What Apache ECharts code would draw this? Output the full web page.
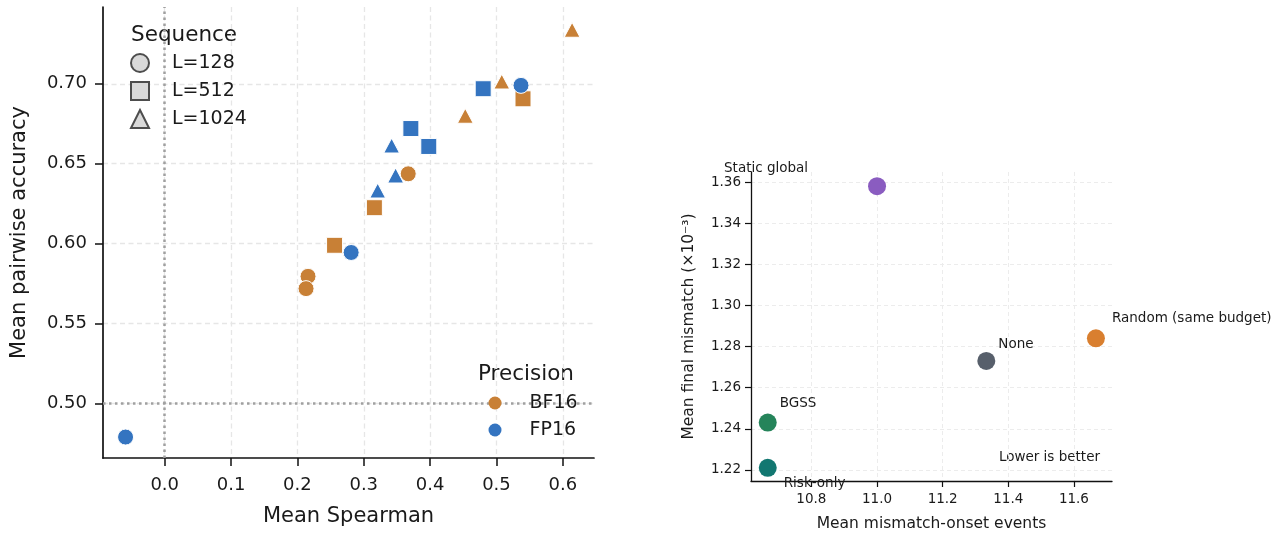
<!DOCTYPE html>
<html><head><meta charset="utf-8">
<script src="https://cdn.jsdelivr.net/npm/echarts@6/dist/echarts.min.js"></script>
<style>html,body{margin:0;padding:0;background:#fff}#c{width:1286px;height:533px}</style>
</head><body><div id="c"></div>
<script>
// ---------- Left panel data ----------
const precisions = ['BF16', 'FP16'];
const seqLevels = ['L=128', 'L=512', 'L=1024'];
const bf16Spearman = [0.216, 0.213, 0.367, 0.256, 0.316, 0.540, 0.453, 0.508, 0.614];
const bf16Accuracy = [0.5796, 0.5719, 0.6437, 0.599, 0.6225, 0.6906, 0.680, 0.7014, 0.7338];
const bf16Seq = ['L=128', 'L=128', 'L=128', 'L=512', 'L=512', 'L=512', 'L=1024', 'L=1024', 'L=1024'];
const fp16Spearman = [-0.059, 0.281, 0.537, 0.371, 0.398, 0.480, 0.321, 0.348, 0.342];
const fp16Accuracy = [0.4791, 0.5945, 0.699, 0.672, 0.6608, 0.6969, 0.6333, 0.6427, 0.6614];
const fp16Seq = ['L=128', 'L=128', 'L=128', 'L=512', 'L=512', 'L=512', 'L=1024', 'L=1024', 'L=1024'];
const leftXTicks = [0.0, 0.1, 0.2, 0.3, 0.4, 0.5, 0.6];
const leftYTicks = [0.50, 0.55, 0.60, 0.65, 0.70];
const refX = 0.0;
const refY = 0.5;

// ---------- Right panel data ----------
const methods = ['Static global', 'Random (same budget)', 'None', 'BGSS', 'Risk-only'];
const onsetEvents = [11.0, 11.667, 11.333, 10.667, 10.667];
const finalMismatch = [1.358, 1.284, 1.273, 1.243, 1.221];
const rightXTicks = [10.8, 11.0, 11.2, 11.4, 11.6];
const rightYTicks = [1.22, 1.24, 1.26, 1.28, 1.30, 1.32, 1.34, 1.36];

// ---------- Styles ----------
const FONT = 'DejaVu Sans';
const precColors = { BF16: '#c88036', FP16: '#3474c0' };
const seqSymbols = { 'L=128': 'circle', 'L=512': 'rect', 'L=1024': 'triangle' };
const seqSizes = { 'L=128': 16, 'L=512': 16, 'L=1024': [16, 15] };
const methodColors = ['#8a5cc0', '#d97f2f', '#575f6b', '#25845a', '#127771'];
const labelOffsets = [[-153, -18], [16, -20], [12, -16], [12, -19], [16, 16]];

const gridLine = { show: true, lineStyle: { color: '#e6e6e6', width: 1.3, type: [5, 3.5] } };

function mkPoints(xs, ys, seqs) {
  return xs.map((x, i) => ({
    value: [x, ys[i]],
    symbol: seqSymbols[seqs[i]],
    symbolSize: seqSizes[seqs[i]]
  }));
}

const chart = echarts.init(document.getElementById('c'), null, { renderer: 'canvas' });

const option = {
  animation: false,
  backgroundColor: '#fff',
  textStyle: { fontFamily: FONT },
  grid: [
    { left: 103, top: 7, width: 491, height: 451, containLabel: false, outerBoundsMode: 'none' },
    { left: 751, top: 172, width: 361, height: 309, containLabel: false, outerBoundsMode: 'none' }
  ],
  xAxis: [
    {
      gridIndex: 0, type: 'value', min: -0.093, max: 0.647,
      name: 'Mean Spearman', nameLocation: 'middle', nameGap: 48,
      nameTextStyle: { fontSize: 21, color: '#1a1a1a', fontFamily: FONT },
      axisLine: { show: true, onZero: false, lineStyle: { color: '#111', width: 1.7 } },
      axisTick: { show: true, length: 8, lineStyle: { width: 1.5, color: '#111' }, customValues: leftXTicks },
      axisLabel: { fontSize: 18, color: '#1a1a1a', margin: 18, fontFamily: FONT, customValues: leftXTicks,
        formatter: v => v.toFixed(1) },
      splitLine: gridLine
    },
    {
      gridIndex: 1, type: 'value', min: 10.616, max: 11.716,
      name: 'Mean mismatch-onset events', nameLocation: 'middle', nameGap: 35,
      nameTextStyle: { fontSize: 15.5, color: '#1a1a1a', fontFamily: FONT },
      axisLine: { show: true, onZero: false, lineStyle: { color: '#111', width: 1.3 } },
      axisTick: { show: true, length: 6, lineStyle: { width: 1.2, color: '#111' }, customValues: rightXTicks },
      axisLabel: { fontSize: 13.5, color: '#1a1a1a', margin: 11, fontFamily: FONT, customValues: rightXTicks,
        formatter: v => v.toFixed(1) },
      splitLine: { show: true, lineStyle: { color: '#ececec', width: 1, type: [4, 3] } }
    }
  ],
  yAxis: [
    {
      gridIndex: 0, type: 'value', min: 0.466, max: 0.748,
      name: 'Mean pairwise accuracy', nameLocation: 'middle', nameGap: 73,
      nameTextStyle: { fontSize: 21, color: '#1a1a1a', fontFamily: FONT },
      axisLine: { show: true, onZero: false, lineStyle: { color: '#111', width: 1.7 } },
      axisTick: { show: true, length: 8, lineStyle: { width: 1.5, color: '#111' }, customValues: leftYTicks },
      axisLabel: { fontSize: 18, color: '#1a1a1a', margin: 16, fontFamily: FONT, customValues: leftYTicks,
        formatter: v => v.toFixed(2) },
      splitLine: gridLine
    },
    {
      gridIndex: 1, type: 'value', min: 1.2146, max: 1.3649,
      name: 'Mean final mismatch (×10⁻³)', nameLocation: 'middle', nameGap: 54,
      nameTextStyle: { fontSize: 15.5, color: '#1a1a1a', fontFamily: FONT },
      axisLine: { show: true, onZero: false, lineStyle: { color: '#111', width: 1.3 } },
      axisTick: { show: true, length: 6, lineStyle: { width: 1.2, color: '#111' }, customValues: rightYTicks },
      axisLabel: { fontSize: 13.5, color: '#1a1a1a', margin: 10, fontFamily: FONT, customValues: rightYTicks,
        formatter: v => v.toFixed(2) },
      splitLine: { show: true, lineStyle: { color: '#ececec', width: 1, type: [4, 3] } }
    }
  ],
  legend: [
    {
      data: seqLevels.map(s => ({ name: s, icon: seqSymbols[s] })),
      orient: 'vertical', left: 130, top: 53, padding: 0,
      itemWidth: 18, itemHeight: 18, itemGap: 8, selectedMode: false,
      textStyle: { fontSize: 19, color: '#1a1a1a', fontFamily: FONT, padding: [0, 0, 0, 18] }
    },
    {
      data: precisions.map(p => ({ name: p, icon: 'circle' })),
      orient: 'vertical', left: 488.5, top: 393.5, padding: 0,
      itemWidth: 13, itemHeight: 13, itemGap: 8, selectedMode: false,
      itemStyle: { borderWidth: 0 },
      textStyle: { fontSize: 19, color: '#1a1a1a', fontFamily: FONT, padding: [0, 0, 0, 23] }
    }
  ],
  graphic: [
    { type: 'text', left: 131, top: 24, style: { text: 'Sequence', font: '21.5px "DejaVu Sans"', fill: '#1a1a1a' } },
    { type: 'text', left: 478, top: 363, style: { text: 'Precision', font: '21.5px "DejaVu Sans"', fill: '#1a1a1a' } },
    { type: 'text', right: 1286 - 1100, top: 450, style: { text: 'Lower is better', font: '13.5px "DejaVu Sans"', fill: '#1a1a1a' } }
  ],
  series: [
    // reference lines
    {
      type: 'scatter', xAxisIndex: 0, yAxisIndex: 0, data: [], silent: true, z: 1,
      markLine: {
        silent: true, symbol: 'none', animation: false, z: 1,
        label: { show: false },
        lineStyle: { color: '#a0a0a0', width: 2.5, type: [2.5, 3.5] },
        data: [{ xAxis: refX }, { yAxis: refY }]
      }
    },
    // legend-only series for sequence lengths
    ...seqLevels.map(s => ({
      name: s, type: 'scatter', xAxisIndex: 0, yAxisIndex: 0, data: [],
      symbol: seqSymbols[s],
      itemStyle: { color: '#d9d9d9', borderColor: '#4d4d4d', borderWidth: 2, opacity: 1 }
    })),
    {
      name: 'BF16', type: 'scatter', xAxisIndex: 0, yAxisIndex: 0, z: 3,
      itemStyle: { color: precColors.BF16, borderColor: '#ffffff', borderWidth: 1, opacity: 1 },
      data: mkPoints(bf16Spearman, bf16Accuracy, bf16Seq)
    },
    {
      name: 'FP16', type: 'scatter', xAxisIndex: 0, yAxisIndex: 0, z: 4,
      itemStyle: { color: precColors.FP16, borderColor: '#ffffff', borderWidth: 1, opacity: 1 },
      data: mkPoints(fp16Spearman, fp16Accuracy, fp16Seq)
    },
    {
      name: 'methods', type: 'scatter', xAxisIndex: 1, yAxisIndex: 1, symbolSize: 18, z: 3,
      data: methods.map((m, i) => ({
        name: m, value: [onsetEvents[i], finalMismatch[i]],
        itemStyle: { color: methodColors[i], opacity: 1 },
        label: {
          show: true, position: 'inside', formatter: m, align: 'left', verticalAlign: 'middle',
          offset: labelOffsets[i], fontSize: 13.5, color: '#1a1a1a', fontFamily: FONT
        }
      }))
    }
  ]
};
chart.setOption(option);
</script>
</body></html>
